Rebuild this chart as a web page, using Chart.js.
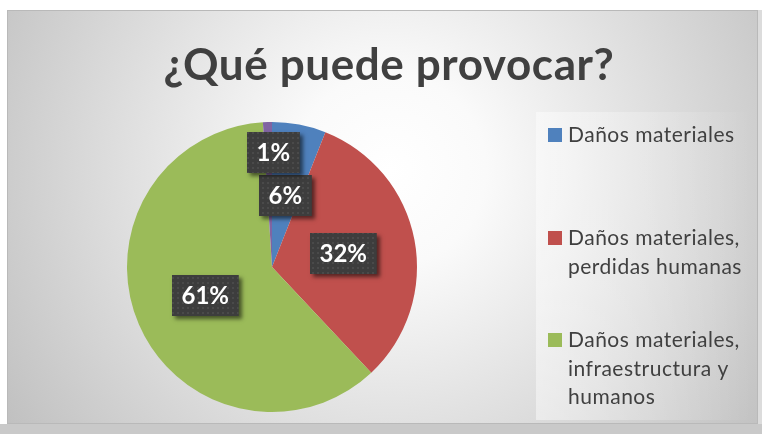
<!DOCTYPE html>
<html>
<head>
<meta charset="utf-8">
<script src="https://cdn.jsdelivr.net/npm/chart.js@4.4.1/dist/chart.umd.min.js"></script>
<style>
  html, body { margin: 0; padding: 0; background: #ffffff; }
  #wrap { width: 762px; height: 434px; position: relative; }
  canvas { display: block; }
</style>
</head>
<body>
<div id="wrap"><canvas id="c" width="762" height="434"></canvas></div>
<script>
// ---- data ----
const chartTitle = '¿Qué puede provocar?';
const categories = [
  'Daños materiales',
  'Daños materiales, perdidas humanas',
  'Daños materiales, infraestructura y humanos',
  'Otros'
];
const legendLines = [
  ['Daños materiales'],
  ['Daños materiales,', 'perdidas humanas'],
  ['Daños materiales,', 'infraestructura y', 'humanos']
];
const values = [6, 32, 61, 1];
const sliceColors = ['#4F81BD', '#C0504D', '#9BBB59', '#8064A2'];

const FONT = 'Lato, "Open Sans", "DejaVu Sans", sans-serif';

// background + frame
const backgroundPlugin = {
  id: 'bg',
  beforeDraw(chart) {
    const ctx = chart.ctx;
    ctx.save();
    ctx.fillStyle = '#ffffff';
    ctx.fillRect(0, 0, 762, 434);
    ctx.fillStyle = '#c9c9c9';
    ctx.fillRect(0, 424, 762, 10);
    ctx.fillStyle = '#dcdcdc';
    ctx.fillRect(758, 10, 4, 414);
    const g = ctx.createRadialGradient(390, 170, 0, 390, 170, 480);
    g.addColorStop(0, '#ffffff');
    g.addColorStop(0.2, '#fafafa');
    g.addColorStop(1, '#bdbdbd');
    ctx.fillStyle = g;
    ctx.fillRect(7, 10, 751, 414);
    ctx.strokeStyle = '#b9b9b9';
    ctx.lineWidth = 1;
    ctx.strokeRect(7.5, 10.5, 750, 413);
    // legend panel
    const lg = ctx.createLinearGradient(536, 0, 752, 0);
    lg.addColorStop(0, 'rgba(255,255,255,0.45)');
    lg.addColorStop(1, 'rgba(255,255,255,0.0)');
    ctx.fillStyle = lg;
    ctx.fillRect(536, 112, 216, 308);
    ctx.restore();
  }
};

// title
const titlePlugin = {
  id: 'customTitle',
  afterDraw(chart) {
    const ctx = chart.ctx;
    ctx.save();
    ctx.font = 'bold 44px ' + FONT;
    ctx.letterSpacing = '0.6px';
    ctx.fillStyle = '#404040';
    ctx.textAlign = 'center';
    ctx.textBaseline = 'alphabetic';
    ctx.fillText(chartTitle, 389, 80);
    ctx.restore();
  }
};

// legend
const legendPlugin = {
  id: 'customLegend',
  afterDraw(chart) {
    const ctx = chart.ctx;
    const colors = chart.data.datasets[0].backgroundColor;
    const tops = [142, 245, 347];
    ctx.save();
    ctx.font = '21px ' + FONT;
    ctx.letterSpacing = '0.5px';
    ctx.fillStyle = '#404040';
    ctx.textAlign = 'left';
    ctx.textBaseline = 'alphabetic';
    legendLines.forEach((lines, i) => {
      const base = tops[i];
      ctx.fillStyle = colors[i];
      ctx.fillRect(548, base - 14, 14, 14);
      ctx.fillStyle = '#404040';
      lines.forEach((ln, j) => ctx.fillText(ln, 568, base + j * 28.5));
    });
    ctx.restore();
  }
};

// data labels
function makePattern(ctx) {
  const pc = document.createElement('canvas');
  pc.width = 5; pc.height = 5;
  const p = pc.getContext('2d');
  p.fillStyle = '#3d3d3d';
  p.fillRect(0, 0, 5, 5);
  p.fillStyle = '#4a4a4a';
  p.fillRect(2, 2, 2, 2);
  return ctx.createPattern(pc, 'repeat');
}
const labelPlugin = {
  id: 'pctLabels',
  afterDatasetsDraw(chart) {
    const ctx = chart.ctx;
    const meta = chart.getDatasetMeta(0);
    const data = chart.data.datasets[0].data;
    const total = data.reduce((a, b) => a + b, 0);
    const pattern = makePattern(ctx);
    ctx.save();
    ctx.font = 'bold 24px ' + FONT;
    meta.data.forEach((arc, i) => {
      const pct = data[i] / total;
      const txt = Math.round(pct * 100) + '%';
      const mid = (arc.startAngle + arc.endAngle) / 2;
      const rf = pct < 0.03 ? 0.79 : 0.5;
      const cx = arc.x + Math.cos(mid) * arc.outerRadius * rf + (pct < 0.03 ? 5 : 0);
      const cy = arc.y + Math.sin(mid) * arc.outerRadius * rf;
      const tw = ctx.measureText(txt).width;
      const w = tw + 19, h = 41;
      const x = Math.round(cx - w / 2), y = Math.round(cy - h / 2);
      ctx.save();
      ctx.shadowColor = 'rgba(0,0,0,0.55)';
      ctx.shadowBlur = 4;
      ctx.shadowOffsetX = 3;
      ctx.shadowOffsetY = 3;
      ctx.fillStyle = '#3d3d3d';
      ctx.fillRect(x, y, w, h);
      ctx.restore();
      ctx.fillStyle = pattern;
      ctx.fillRect(x, y, w, h);
      ctx.fillStyle = '#ffffff';
      ctx.textAlign = 'center';
      ctx.textBaseline = 'middle';
      ctx.fillText(txt, x + w / 2, y + h / 2 + 1);
    });
    ctx.restore();
  }
};

new Chart(document.getElementById('c'), {
  type: 'pie',
  data: {
    labels: categories,
    datasets: [{
      data: values,
      backgroundColor: sliceColors,
      borderWidth: 0
    }]
  },
  options: {
    responsive: false,
    devicePixelRatio: 1,
    animation: false,
    layout: { padding: { top: 122, bottom: 22, left: 127, right: 345 } },
    plugins: {
      legend: { display: false },
      title: { display: false },
      tooltip: { enabled: false }
    }
  },
  plugins: [backgroundPlugin, labelPlugin, titlePlugin, legendPlugin]
});
</script>
</body>
</html>
